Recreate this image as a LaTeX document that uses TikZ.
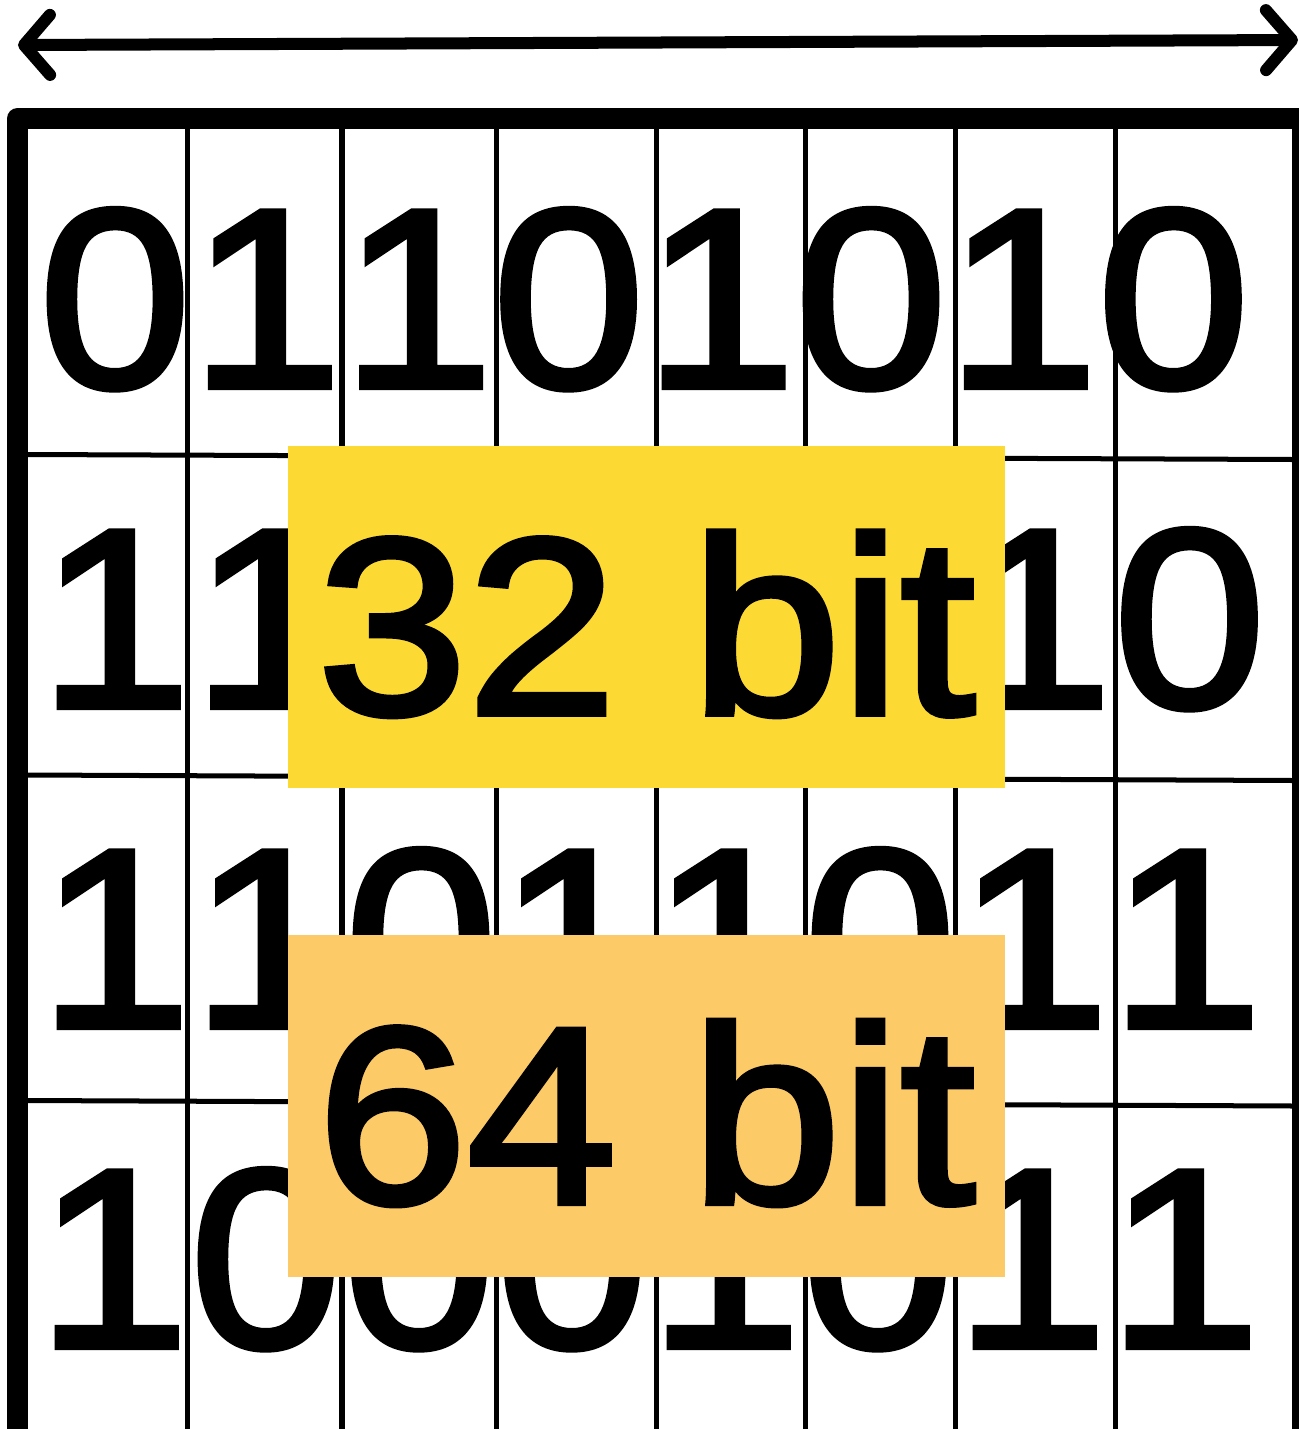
\documentclass[tikz,border=0pt]{standalone}
\usepackage{fontspec}
\setmainfont{Liberation Sans}
\newfontfamily\digitfont[FakeStretch=1.07,FakeBold=2.5]{Liberation Sans}
\newfontfamily\labelfont[FakeStretch=1.07,FakeBold=2.5]{Liberation Sans}
\usetikzlibrary{arrows.meta}
\definecolor{wordyellow}{RGB}{253,218,51}
\definecolor{wordorange}{RGB}{252,202,102}

\begin{document}
\begin{tikzpicture}[
    x=0.01cm,y=-0.01cm,
    digit/.style={font=\digitfont\fontsize{72.5}{74}\selectfont,anchor=base,inner sep=0pt},
    wordbox/.style={minimum width=7.17cm,minimum height=3.42cm,inner sep=0pt,
        text height=1.94cm,text depth=0cm,font=\labelfont\fontsize{71.5}{72}\selectfont},
    border/.style={line width=0.21cm,line join=round},
    cellline/.style={line width=0.05cm},
    >={Straight Barb[length=0.26cm,width=0.6cm,line cap=round,line join=round]}
]
\useasboundingbox (0,0) rectangle (1299,1429);

% bits, row by row
\foreach \d [count=\i from 0] in {0,1,1,0,1,0,1,0}
    \node[digit] (ra\i) at (115+151.2*\i,387) {\d};
\foreach \i/\d in {0/1,1/1,6/1,7/0}
    \node[digit] (rb\i) at (115+153.5*\i,707) {\d};
\foreach \d [count=\i from 0] in {1,1,0,1,1,0,1,1}
    \node[digit] (rc\i) at (115+153*\i,1027) {\d};
\foreach \d [count=\i from 0] in {1,0,0,0,1,0,1,1}
    \node[digit] (rd\i) at (113+153*\i,1347) {\d};

% cell lines
\foreach \x in {187.5,342,496.7,656.5,805.8,955,1115}
    \draw[cellline] (\x,119) -- (\x,1429);
\draw[line width=0.07cm] (1295.5,119) -- (1295.5,1429);
\draw[cellline] (28,454.5) -- (1295,459.5);
\draw[cellline] (28,775) -- (1295,780.5);
\draw[cellline] (28,1100.5) -- (1295,1106);

% frame
\draw[border] (17.5,1440) -- (17.5,118.5) -- (1310,118.5);

% width arrow
\coordinate (span west) at (18,45);
\coordinate (span east) at (1298,40);
\draw[<->,line width=0.12cm,line cap=round] (span west) -- (span east);

\node[wordbox,fill=wordyellow] (w32) at (646.5,616.7) {32 bit};
\node[wordbox,fill=wordorange] (w64) at (646.5,1105.8) {64 bit};
\end{tikzpicture}
\end{document}
